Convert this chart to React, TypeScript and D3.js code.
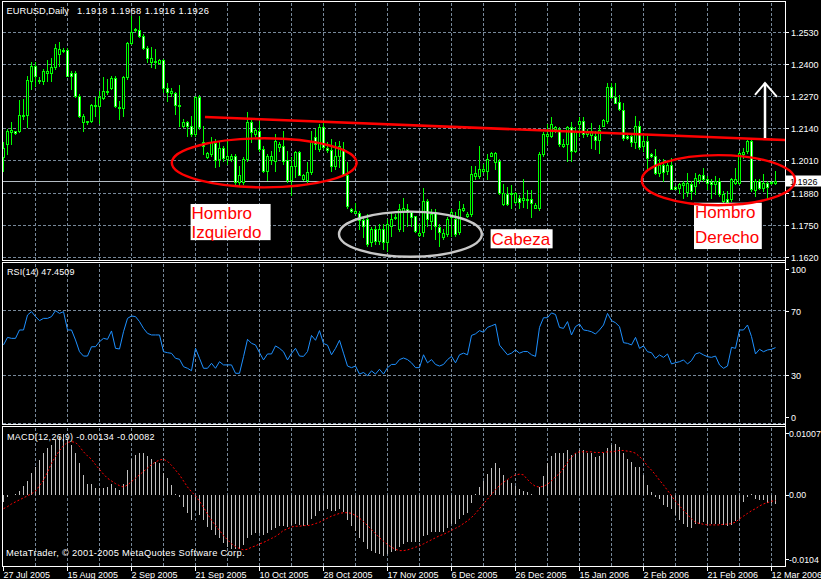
import React, { useEffect, useRef } from "react";
import * as d3 from "d3";

const symbolTitle = "EURUSD,Daily";
const lastQuote = ["1.1918", "1.1968", "1.1916", "1.1926"];
const rsiTitle = "RSI(14) 47.4509";
const macdTitle = "MACD(12,26,9) -0.00134 -0.00082";
const copyright = "MetaTrader, \u00A9 2001-2005 MetaQuotes Software Corp.";

const opens = [
  1.2022,1.2076,1.2123,1.2127,1.2127,1.2194,1.2194,1.2331,1.2389,1.2331,
  1.2331,1.2361,1.2361,1.2385,1.2441,1.2452,1.2456,1.2362,1.2361,1.2268,
  1.2166,1.2163,1.2167,1.2228,1.2228,1.2261,1.2285,1.2300,1.2341,1.2224,
  1.2220,1.2345,1.2482,1.2540,1.2537,1.2510,1.2462,1.2408,1.2410,1.2401,
  1.2416,1.2300,1.2281,1.2280,1.2233,1.2147,1.2163,1.2147,1.2116,1.2267,
  1.2085,1.2023,1.2036,1.2079,1.2016,1.2059,1.2016,1.2016,1.2029,1.1923,
  1.1923,1.2016,1.2165,1.2116,1.2129,1.2056,1.1969,1.2012,1.2009,1.2065,
  1.2069,1.2012,1.1932,1.1989,1.2043,1.1936,1.1929,1.1963,1.2103,1.2056,
  1.2143,1.2059,1.2053,1.1989,1.2027,1.2056,1.1952,1.1813,1.1796,1.1796,
  1.1770,1.1773,1.1680,1.1735,1.1686,1.1733,1.1680,1.1746,1.1776,1.1733,
  1.1806,1.1813,1.1802,1.1784,1.1709,1.1719,1.1847,1.1766,1.1800,1.1740,
  1.1699,1.1713,1.1780,1.1773,1.1719,1.1809,1.1784,1.1793,1.1947,1.1947,
  1.1968,1.1969,1.2029,1.2005,1.2009,1.1833,1.1876,1.1875,1.1840,1.1860,
  1.1852,1.1856,1.1856,1.1819,1.1816,1.2036,1.2109,1.2107,1.2136,1.2136,
  1.2067,1.2076,1.2143,1.2049,1.2156,1.2169,1.2116,1.2114,1.2110,1.2091,
  1.2150,1.2167,1.2307,1.2267,1.2245,1.2214,1.2107,1.2107,1.2083,1.2150,
  1.2067,1.2087,1.2034,1.2027,1.1960,1.1993,1.1967,1.1993,1.1904,1.1900,
  1.1909,1.1883,1.1913,1.1907,1.1931,1.1949,1.1936,1.1923,1.1913,1.1927,
  1.1847,1.1853,1.1853,1.1920,1.1920,1.2034,1.2047,1.2087,1.1890,1.1927,
  1.1900,1.1917,1.1917,1.1918,
];
const highs = [
  1.2085,1.2136,1.2163,1.2129,1.2253,1.2257,1.2351,1.2405,1.2405,1.2345,
  1.2378,1.2416,1.2425,1.2479,1.2489,1.2462,1.2462,1.2372,1.2372,1.2277,
  1.2197,1.2170,1.2237,1.2264,1.2291,1.2345,1.2338,1.2351,1.2349,1.2250,
  1.2351,1.2486,1.2593,1.2546,1.2591,1.2519,1.2472,1.2466,1.2459,1.2419,
  1.2419,1.2324,1.2304,1.2284,1.2314,1.2177,1.2170,1.2190,1.2271,1.2273,
  1.2149,1.2043,1.2103,1.2096,1.2089,1.2069,1.2089,1.2036,1.2036,1.1989,
  1.2023,1.2205,1.2176,1.2139,1.2169,1.2069,1.2036,1.2049,1.2116,1.2083,
  1.2129,1.2049,1.2023,1.2049,1.2049,1.1956,1.2003,1.2129,1.2136,1.2156,
  1.2163,1.2083,1.2096,1.2083,1.2089,1.2083,1.2003,1.1816,1.1836,1.1805,
  1.1780,1.1793,1.1740,1.1746,1.1753,1.1753,1.1773,1.1800,1.1793,1.1833,
  1.1860,1.1833,1.1806,1.1786,1.1753,1.1900,1.1853,1.1813,1.1813,1.1753,
  1.1733,1.1780,1.1813,1.1800,1.1847,1.1833,1.1800,1.1987,1.1987,1.2068,
  1.1996,1.2036,1.2043,1.2045,1.2016,1.1916,1.1903,1.1909,1.1883,1.1869,
  1.1936,1.1889,1.1889,1.1836,1.2043,1.2123,1.2156,1.2183,1.2149,1.2143,
  1.2096,1.2149,1.2163,1.2143,1.2183,1.2183,1.2136,1.2160,1.2127,1.2154,
  1.2176,1.2323,1.2323,1.2323,1.2274,1.2241,1.2112,1.2120,1.2190,1.2167,
  1.2114,1.2107,1.2038,1.2054,1.2014,1.2014,1.2000,1.2020,1.1907,1.1920,
  1.1927,1.1960,1.1927,1.1960,1.1953,1.1980,1.1947,1.1933,1.1947,1.1940,
  1.1887,1.1887,1.1940,1.1980,1.2047,1.2060,1.2094,1.2100,1.1933,1.1933,
  1.1953,1.1927,1.1927,1.1968,
];
const lows = [
  1.1968,1.2035,1.2076,1.2116,1.2123,1.2177,1.2143,1.2298,1.2311,1.2324,
  1.2318,1.2331,1.2331,1.2378,1.2392,1.2448,1.2349,1.2298,1.2264,1.2183,
  1.2129,1.2156,1.2163,1.2190,1.2160,1.2257,1.2277,1.2298,1.2224,1.2177,
  1.2190,1.2338,1.2479,1.2533,1.2506,1.2459,1.2405,1.2385,1.2381,1.2398,
  1.2284,1.2250,1.2271,1.2197,1.2150,1.2143,1.2109,1.2109,1.2109,1.2136,
  1.2036,1.2019,1.2029,1.1983,1.1989,1.2009,1.1996,1.2009,1.1909,1.1909,
  1.1916,1.2009,1.2083,1.2109,1.2049,1.1963,1.1929,1.1996,1.1969,1.2049,
  1.1996,1.1923,1.1869,1.1943,1.1949,1.1929,1.1923,1.1956,1.2056,1.2049,
  1.2056,1.2043,1.1969,1.1976,1.1983,1.1949,1.1816,1.1803,1.1796,1.1735,
  1.1700,1.1666,1.1666,1.1672,1.1672,1.1652,1.1646,1.1706,1.1773,1.1726,
  1.1726,1.1746,1.1746,1.1719,1.1706,1.1706,1.1746,1.1733,1.1692,1.1666,
  1.1692,1.1706,1.1706,1.1706,1.1713,1.1806,1.1780,1.1786,1.1934,1.1940,
  1.1963,1.1936,1.2027,1.1976,1.1876,1.1829,1.1829,1.1816,1.1836,1.1816,
  1.1823,1.1816,1.1783,1.1816,1.1809,1.2029,1.2076,1.2103,1.2123,1.2069,
  1.2063,1.2009,1.2009,1.2043,1.2109,1.2103,1.2109,1.2060,1.2054,1.2040,
  1.2147,1.2160,1.2261,1.2241,1.2214,1.2094,1.2096,1.2067,1.2060,1.2054,
  1.2047,1.1973,1.2024,1.1953,1.1947,1.1927,1.1953,1.1893,1.1893,1.1880,
  1.1860,1.1866,1.1853,1.1873,1.1920,1.1927,1.1893,1.1860,1.1873,1.1866,
  1.1840,1.1833,1.1847,1.1913,1.1913,1.2020,1.2040,1.1887,1.1866,1.1893,
  1.1887,1.1860,1.1913,1.1916,
];
const closes = [
  1.2058,1.2129,1.2132,1.2120,1.2194,1.2190,1.2334,1.2389,1.2351,1.2334,
  1.2369,1.2369,1.2385,1.2462,1.2460,1.2456,1.2351,1.2351,1.2268,1.2187,
  1.2187,1.2167,1.2234,1.2233,1.2264,1.2288,1.2288,1.2341,1.2228,1.2221,
  1.2345,1.2482,1.2530,1.2537,1.2510,1.2462,1.2425,1.2425,1.2408,1.2416,
  1.2300,1.2287,1.2291,1.2233,1.2231,1.2163,1.2147,1.2116,1.2267,1.2143,
  1.2069,1.2039,1.2085,1.2012,1.2059,1.2019,1.2029,1.2027,1.1923,1.1952,
  1.2016,1.2165,1.2123,1.2132,1.2056,1.1969,1.2029,1.2027,1.2089,1.2076,
  1.2009,1.1932,1.1989,1.2043,1.1952,1.1949,1.1963,1.2089,1.2076,1.2143,
  1.2063,1.2053,1.1989,1.2027,1.2069,1.1952,1.1827,1.1807,1.1805,1.1770,
  1.1745,1.1672,1.1733,1.1686,1.1735,1.1680,1.1753,1.1773,1.1782,1.1813,
  1.1816,1.1800,1.1780,1.1726,1.1717,1.1847,1.1773,1.1793,1.1746,1.1719,
  1.1717,1.1773,1.1800,1.1713,1.1813,1.1817,1.1793,1.1954,1.1960,1.1974,
  1.1976,1.2016,1.2040,1.2040,1.1879,1.1879,1.1833,1.1880,1.1880,1.1843,
  1.1860,1.1852,1.1836,1.1829,1.2036,1.2116,1.2116,1.2156,1.2143,1.2076,
  1.2076,1.2143,1.2049,1.2129,1.2169,1.2116,1.2129,1.2127,1.2091,1.2134,
  1.2171,1.2307,1.2265,1.2243,1.2217,1.2100,1.2102,1.2083,1.2150,1.2064,
  1.2087,1.2020,1.2027,1.1960,1.1993,1.1963,1.1993,1.1896,1.1896,1.1913,
  1.1920,1.1920,1.1887,1.1940,1.1949,1.1933,1.1920,1.1913,1.1927,1.1873,
  1.1873,1.1842,1.1936,1.1933,1.2040,1.2043,1.2087,1.1893,1.1927,1.1900,
  1.1920,1.1904,1.1923,1.1926,
];

const rsiValues = [
  49.1,53.8,53.2,53.2,58.4,58.4,67.7,69.8,66.7,64.2,
  65.6,65.6,66.7,70.4,68.7,69.8,58.4,58.4,52.2,44.9,
  42.2,42.2,48.0,48.0,51.1,53.2,52.6,57.8,47.0,46.6,
  57.3,65.6,67.1,66.7,63.6,59.4,56.3,55.3,55.3,55.3,
  44.9,44.3,43.9,40.8,40.2,35.6,34.6,33.1,47.0,40.8,
  34.6,34.6,37.7,34.6,38.7,36.7,36.7,36.7,31.5,31.5,
  41.8,52.6,50.1,49.1,44.3,39.8,43.5,43.5,48.5,47.0,
  44.9,39.8,43.9,47.0,42.2,42.0,45.0,55.0,52.0,58.0,
  50.0,49.0,43.0,47.0,52.0,44.0,36.0,35.0,36.0,31.0,
  32.0,30.0,33.0,31.0,34.0,31.0,35.0,37.0,37.0,40.0,
  41.0,40.0,38.0,35.0,35.0,43.0,38.0,40.0,37.0,36.0,
  37.0,40.0,42.0,38.0,43.0,44.0,43.0,55.0,56.0,58.0,
  57.0,60.0,61.0,62.0,49.0,46.0,43.0,44.0,46.0,44.0,
  45.0,45.0,43.0,42.0,60.0,66.0,66.0,69.0,68.0,60.0,
  59.4,63.6,55.3,60.5,62.1,58.4,58.0,57.3,55.9,58.4,
  61.5,68.7,64.2,62.9,60.5,50.5,50.1,49.1,53.8,47.0,
  48.5,44.9,44.3,40.8,42.9,41.4,43.5,37.3,38.1,38.7,
  39.8,37.3,39.4,43.5,44.3,42.9,41.8,41.4,42.2,36.7,
  34.6,36.0,47.6,47.0,58.4,58.4,61.5,54.3,43.5,46.4,
  44.9,46.0,46.4,47.45,
];

const macdValues = [
  -0.0010,-0.0003,0.0000,0.0001,0.0006,0.0013,0.0021,0.0032,0.0042,0.0052,
  0.0062,0.0069,0.0074,0.0082,0.0086,0.0090,0.0082,0.0074,0.0062,0.0047,
  0.0030,0.0017,0.0016,0.0010,0.0010,0.0011,0.0012,0.0016,0.0010,0.0007,
  0.0017,0.0037,0.0053,0.0059,0.0062,0.0062,0.0058,0.0053,0.0049,0.0047,
  0.0033,0.0025,0.0015,0.0001,-0.0003,-0.0017,-0.0027,-0.0037,-0.0022,-0.0030,
  -0.0037,-0.0047,-0.0052,-0.0059,-0.0064,-0.0071,-0.0077,-0.0079,-0.0079,-0.0079,
  -0.0074,-0.0064,-0.0059,-0.0056,-0.0056,-0.0059,-0.0056,-0.0052,-0.0048,-0.0046,
  -0.0046,-0.0047,-0.0044,-0.0042,-0.0044,-0.0046,-0.0044,-0.0036,-0.0031,-0.0024,
  -0.0022,-0.0021,-0.0024,-0.0024,-0.0020,-0.0025,-0.0037,-0.0046,-0.0053,-0.0063,
  -0.0070,-0.0079,-0.0082,-0.0086,-0.0087,-0.0090,-0.0087,-0.0084,-0.0082,-0.0077,
  -0.0072,-0.0070,-0.0069,-0.0070,-0.0070,-0.0060,-0.0059,-0.0055,-0.0054,-0.0055,
  -0.0054,-0.0049,-0.0043,-0.0042,-0.0035,-0.0030,-0.0027,-0.0011,0.0001,0.0012,
  0.0021,0.0031,0.0040,0.0048,0.0040,0.0030,0.0023,0.0018,0.0013,0.0009,
  0.0006,0.0005,0.0001,0.0000,0.0012,0.0028,0.0047,0.0058,0.0063,0.0063,
  0.0062,0.0066,0.0059,0.0063,0.0066,0.0066,0.0062,0.0062,0.0057,0.0058,
  0.0062,0.0069,0.0074,0.0075,0.0071,0.0063,0.0054,0.0049,0.0041,0.0042,
  0.0030,0.0015,0.0005,-0.0003,-0.0006,-0.0015,-0.0018,-0.0020,-0.0030,-0.0037,
  -0.0042,-0.0047,-0.0048,-0.0043,-0.0042,-0.0040,-0.0042,-0.0042,-0.0042,-0.0042,
  -0.0044,-0.0046,-0.0044,-0.0038,-0.0036,-0.0010,-0.0003,0.0002,-0.0005,-0.0007,
  -0.0007,-0.0011,-0.0012,-0.00134,
];

const signalValues = [
  -0.0020,-0.0017,-0.0013,-0.0010,-0.0007,-0.0004,-0.0001,0.0002,0.0006,0.0014,
  0.0022,0.0034,0.0047,0.0057,0.0066,0.0073,0.0078,0.0079,0.0078,0.0072,
  0.0064,0.0058,0.0053,0.0045,0.0038,0.0031,0.0025,0.0021,0.0017,0.0014,
  0.0012,0.0015,0.0020,0.0025,0.0030,0.0035,0.0040,0.0045,0.0049,0.0052,
  0.0053,0.0050,0.0044,0.0037,0.0030,0.0021,0.0012,0.0005,-0.0001,-0.0009,
  -0.0018,-0.0028,-0.0037,-0.0045,-0.0052,-0.0060,-0.0066,-0.0072,-0.0076,-0.0079,
  -0.0081,-0.0080,-0.0077,-0.0075,-0.0072,-0.0070,-0.0067,-0.0064,-0.0061,-0.0057,
  -0.0052,-0.0050,-0.0047,-0.0046,-0.0046,-0.0045,-0.0045,-0.0044,-0.0042,-0.0040,
  -0.0037,-0.0034,-0.0031,-0.0029,-0.0027,-0.0026,-0.0026,-0.0027,-0.0030,-0.0034,
  -0.0039,-0.0045,-0.0051,-0.0057,-0.0063,-0.0068,-0.0073,-0.0077,-0.0080,-0.0082,
  -0.0082,-0.0081,-0.0079,-0.0077,-0.0075,-0.0072,-0.0069,-0.0066,-0.0063,-0.0060,
  -0.0058,-0.0055,-0.0052,-0.0049,-0.0046,-0.0042,-0.0038,-0.0033,-0.0027,-0.0020,
  -0.0013,-0.0006,0.0001,0.0008,0.0014,0.0019,0.0023,0.0027,0.0030,0.0031,
  0.0030,0.0023,0.0017,0.0013,0.0012,0.0013,0.0016,0.0021,0.0027,0.0032,
  0.0040,0.0048,0.0056,0.0062,0.0064,0.0064,0.0064,0.0064,0.0063,0.0063,
  0.0063,0.0064,0.0064,0.0065,0.0066,0.0066,0.0065,0.0064,0.0062,0.0057,
  0.0051,0.0043,0.0037,0.0030,0.0022,0.0015,0.0007,-0.0001,-0.0009,-0.0016,
  -0.0022,-0.0029,-0.0035,-0.0040,-0.0042,-0.0043,-0.0044,-0.0044,-0.0044,-0.0044,
  -0.0043,-0.0043,-0.0042,-0.0040,-0.0035,-0.0031,-0.0027,-0.0023,-0.0020,-0.0016,
  -0.0013,-0.0011,-0.0009,-0.00082,
];

const dateLabels = [
  "27 Jul 2005","15 Aug 2005","2 Sep 2005","21 Sep 2005","10 Oct 2005","28 Oct 2005",
  "17 Nov 2005","6 Dec 2005","26 Dec 2005","15 Jan 2006","2 Feb 2006","21 Feb 2006","12 Mar 2006",
];
const priceTicks = [1.2530, 1.2400, 1.2270, 1.2140, 1.2010, 1.1880, 1.1750, 1.1620];
const rsiTicks = [100, 70, 30, 0];
const rsiGridLevels = [70, 30, 0];
const macdTicks = [0.01007, 0, -0.0104];
const macdTickText = ["0.01007", "0.00", "-0.0104"];

// annotations expressed in (bar index, price)
const neckline = { i0: 50.5, p0: 1.2185, i1: 195.5, p1: 1.2092 };
const ellipseBoxes = [
  { i0: 42.2, i1: 88.4, pTop: 1.2099, pBot: 1.1901, kind: "red" },
  { i0: 84.0, i1: 119.7, pTop: 1.1803, pBot: 1.1621, kind: "gray" },
  { i0: 159.7, i1: 198.0, pTop: 1.2031, pBot: 1.1829, kind: "red" },
];
const arrowPts = { i: 190.5, pTail: 1.2100, pHead: 1.2322, iL: 188.0, pL: 1.2274, iR: 193.5, pR: 1.2266 };
const textBoxes = [
  { i0: 46.9, i1: 66.9, pTop: 1.1834, pBot: 1.1688, lines: ["Hombro", "Izquierdo"], gap: 19 },
  { i0: 121.9, i1: 137.4, pTop: 1.1732, pBot: 1.1655, lines: ["Cabeza"], gap: 19 },
  { i0: 172.75, i1: 189.7, pTop: 1.1839, pBot: 1.1652, lines: ["Hombro", "Derecho"], gap: 24.5 },
];

export default function App() {
  const ref = useRef<SVGSVGElement>(null);

  useEffect(() => {
    const svg = d3.select(ref.current);
    svg.selectAll("*").remove();
    const W = 821, H = 579;
    const FONT = "'Liberation Sans', Arial, sans-serif";
    const xLeft = 2, xRight = 785;
    const mainP = [1.5, 260.5], rsiP = [262.5, 424.5], macdP = [426.5, 566.5];
    const GRID = "#778899";
    const n = closes.length;

    const x = d3.scaleLinear().domain([0, n - 1]).range([3, 3 + 4 * (n - 1)]);
    const yP = d3.scaleLinear().domain([1.1620, 1.2530]).range([257, 31.5]);
    const yR = d3.scaleLinear().domain([0, 100]).range([424, 263]);
    const yM = d3.scaleLinear().domain([-0.0104, 0.01007]).range([565.5, 427]);

    svg.append("rect").attr("width", W).attr("height", H).attr("fill", "#000");

    const grid = svg.append("g").attr("shape-rendering", "crispEdges")
      .attr("stroke", GRID).attr("stroke-dasharray", "3,2").attr("stroke-width", 1);
    const vIdx = d3.range(8, n + 2, 8);
    [mainP, rsiP, macdP].forEach((p) => {
      vIdx.forEach((i) => {
        const xx = Math.round(x(i)) + 0.5;
        if (xx < xRight) grid.append("line").attr("x1", xx).attr("x2", xx).attr("y1", p[0] + 1).attr("y2", p[1] - 1);
      });
    });
    priceTicks.forEach((t) => {
      const yy = Math.round(yP(t)) + 0.5;
      grid.append("line").attr("x1", xLeft + 1).attr("x2", xRight).attr("y1", yy).attr("y2", yy);
    });
    rsiGridLevels.forEach((t) => {
      const yy = Math.round(yR(t)) - 0.5;
      grid.append("line").attr("x1", xLeft + 1).attr("x2", xRight).attr("y1", yy).attr("y2", yy);
    });

    // bid line
    const bidY = Math.round(yP(closes[n - 1])) + 0.5;
    svg.append("line").attr("x1", xLeft).attr("x2", xRight).attr("y1", bidY).attr("y2", bidY)
      .attr("stroke", "#b4bcc4").attr("shape-rendering", "crispEdges");

    // candles
    const cg = svg.append("g").attr("shape-rendering", "crispEdges");
    for (let i = 0; i < n; i++) {
      const cx = Math.round(x(i));
      const o = opens[i], c = closes[i];
      cg.append("line").attr("x1", cx + 0.5).attr("x2", cx + 0.5)
        .attr("y1", Math.round(yP(highs[i]))).attr("y2", Math.round(yP(lows[i])) + 1)
        .attr("stroke", "#00ff00");
      const yt = Math.round(yP(Math.max(o, c)));
      const yb = Math.round(yP(Math.min(o, c)));
      if (yb - yt < 1) {
        cg.append("line").attr("x1", cx - 1).attr("x2", cx + 2).attr("y1", yt + 0.5).attr("y2", yt + 0.5)
          .attr("stroke", "#00ff00");
      } else {
        cg.append("rect").attr("x", cx - 0.5).attr("y", yt + 0.5).attr("width", 2).attr("height", yb - yt)
          .attr("fill", c >= o ? "#000" : "#fff").attr("stroke", "#00ff00");
      }
    }

    // RSI line
    svg.append("path").datum(rsiValues)
      .attr("d", d3.line<number>().x((_, i) => x(i) + 0.5).y((d) => yR(d)))
      .attr("fill", "none").attr("stroke", "#1e90ff").attr("stroke-width", 1);

    // MACD histogram
    const hg = svg.append("g").attr("shape-rendering", "crispEdges");
    macdValues.forEach((v, i) => {
      const xx = Math.round(x(i)) + 0.5;
      hg.append("line").attr("x1", xx).attr("x2", xx).attr("y1", Math.round(yM(0))).attr("y2", Math.round(yM(v)))
        .attr("stroke", "#c0c0c0");
    });
    svg.append("path").datum(signalValues)
      .attr("d", d3.line<number>().x((_, i) => x(i) + 0.5).y((d) => yM(d)))
      .attr("fill", "none").attr("stroke", "#ff0000").attr("stroke-width", 1).attr("stroke-dasharray", "2,2");

    // panel borders
    const bg = svg.append("g").attr("shape-rendering", "crispEdges").attr("fill", "none").attr("stroke", "#fff");
    [mainP, rsiP, macdP].forEach((p) => {
      bg.append("rect").attr("x", xLeft + 0.5).attr("y", p[0]).attr("width", xRight - xLeft).attr("height", p[1] - p[0]);
    });

    // neckline
    svg.append("line")
      .attr("x1", x(neckline.i0)).attr("y1", yP(neckline.p0))
      .attr("x2", x(neckline.i1)).attr("y2", yP(neckline.p1))
      .attr("stroke", "#ff0000").attr("stroke-width", 2.6);

    // arrow
    const ap = [
      [x(arrowPts.iL), yP(arrowPts.pL)],
      [x(arrowPts.i), yP(arrowPts.pHead)],
      [x(arrowPts.iR), yP(arrowPts.pR)],
    ];
    svg.append("path").attr("d", d3.line()(ap as [number, number][]) as string)
      .attr("fill", "none").attr("stroke", "#fff").attr("stroke-width", 2);
    svg.append("line").attr("x1", x(arrowPts.i)).attr("x2", x(arrowPts.i))
      .attr("y1", yP(arrowPts.pHead)).attr("y2", yP(arrowPts.pTail))
      .attr("stroke", "#fff").attr("stroke-width", 2.5);

    // text boxes
    textBoxes.forEach((b) => {
      const x0 = x(b.i0), x1 = x(b.i1), y0 = yP(b.pTop), y1 = yP(b.pBot);
      svg.append("rect").attr("x", x0).attr("y", y0).attr("width", x1 - x0).attr("height", y1 - y0).attr("fill", "#fff");
      b.lines.forEach((ln, k) => {
        svg.append("text").attr("x", x0 + 1).attr("y", y0 + 15.5 + k * b.gap)
          .attr("fill", "#ff0000").attr("font-family", FONT).attr("font-size", 17).text(ln);
      });
    });

    // axis
    const ax = svg.append("g").attr("font-family", FONT).attr("font-size", 9).attr("fill", "#fff");
    const tk = svg.append("g").attr("stroke", "#fff").attr("shape-rendering", "crispEdges");
    svg.append("line").attr("x1", xRight + 0.5).attr("x2", xRight + 0.5).attr("y1", 1).attr("y2", 567)
      .attr("stroke", "#fff").attr("shape-rendering", "crispEdges");
    priceTicks.forEach((t) => {
      const yy = Math.round(yP(t)) + 0.5;
      tk.append("line").attr("x1", xRight).attr("x2", xRight + 4).attr("y1", yy).attr("y2", yy);
      ax.append("text").attr("x", 791).attr("y", yy + 3.3).text(d3.format(".4f")(t));
    });
    rsiTicks.forEach((t) => {
      const yy = yR(t);
      const by = Math.min(Math.max(yy + 3.3, rsiP[0] + 10), rsiP[1] - 4);
      tk.append("line").attr("x1", xRight).attr("x2", xRight + 4).attr("y1", by - 3.3).attr("y2", by - 3.3);
      ax.append("text").attr("x", 791).attr("y", by).text(String(t));
    });
    macdTicks.forEach((t, k) => {
      const yy = yM(t);
      const by = Math.min(Math.max(yy + 3.3, macdP[0] + 10), macdP[1] - 4);
      tk.append("line").attr("x1", xRight).attr("x2", xRight + 4).attr("y1", by - 3.3).attr("y2", by - 3.3);
      ax.append("text").attr("x", 789).attr("y", by).attr("font-size", 8.8).text(macdTickText[k]);
    });
    dateLabels.forEach((lab, k) => {
      const xx = Math.round(x(k * 16)) + 0.5;
      tk.append("line").attr("x1", xx).attr("x2", xx).attr("y1", 566).attr("y2", 571);
      ax.append("text").attr("x", xx).attr("y", 577.5).text(lab);
    });

    // titles
    ax.append("text").attr("x", 6.5).attr("y", 13.5).attr("font-size", 9.3).text(symbolTitle);
    ax.append("text").attr("x", 77).attr("y", 13.5).attr("font-size", 9.3).attr("letter-spacing", 0.4)
      .text(lastQuote.join(" "));
    ax.append("text").attr("x", 7).attr("y", 275).attr("letter-spacing", 0.1).text(rsiTitle);
    ax.append("text").attr("x", 7).attr("y", 440).attr("letter-spacing", 0.3).text(macdTitle);
    ax.append("text").attr("x", 6).attr("y", 556).attr("font-size", 9.3).attr("letter-spacing", 0.3).text(copyright);

    // current price box
    svg.append("rect").attr("x", 786).attr("y", bidY - 6).attr("width", 35).attr("height", 11).attr("fill", "#fff");
    svg.append("text").attr("x", 790).attr("y", bidY + 3.3).attr("font-family", FONT).attr("font-size", 9)
      .attr("fill", "#000").text(lastQuote[3]);

    // ellipses
    ellipseBoxes.forEach((e) => {
      const x0 = x(e.i0), x1 = x(e.i1), y0 = yP(e.pTop), y1 = yP(e.pBot);
      svg.append("ellipse").attr("cx", (x0 + x1) / 2).attr("cy", (y0 + y1) / 2)
        .attr("rx", (x1 - x0) / 2).attr("ry", (y1 - y0) / 2)
        .attr("fill", "none").attr("stroke", e.kind === "red" ? "#ff0000" : "#c8c8c8").attr("stroke-width", 2.4);
    });
  }, []);

  return (
    <svg ref={ref} width={821} height={579}
      style={{ position: "absolute", left: 0, top: 0, display: "block", background: "#000" }} />
  );
}
